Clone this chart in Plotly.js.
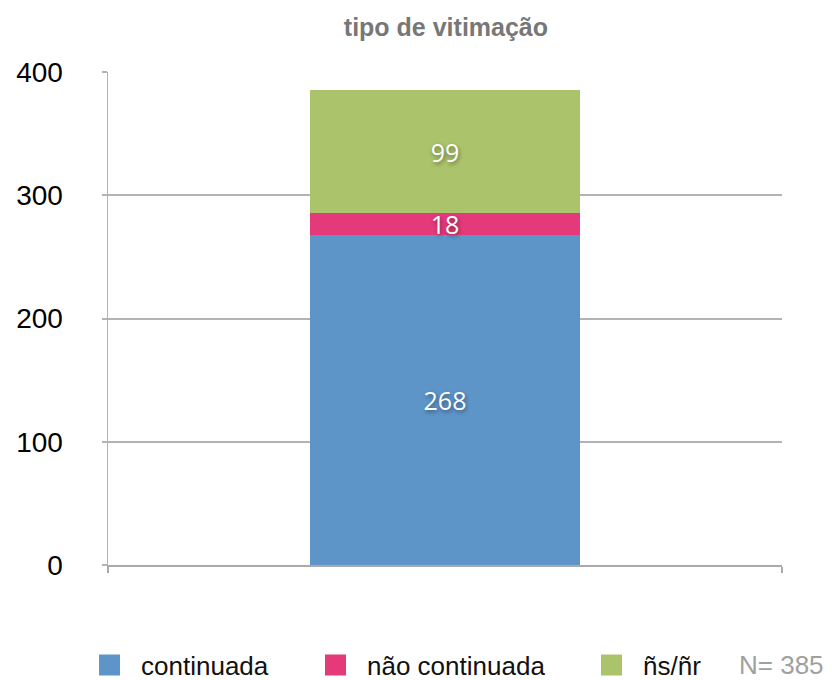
<!DOCTYPE html>
<html>
<head>
<meta charset="utf-8">
<script src="https://cdn.plot.ly/plotly-3.0.1.min.js"></script>
<style>body{margin:0;background:#fff}#chart{width:832px;height:680px}</style>
</head>
<body>
<div id="chart"></div>
<script>
const categories = ["tipo de vitimação"];
const seriesNames = ["continuada", "não continuada", "ñs/ñr"];
const continuada = [268];
const naoContinuada = [18];
const nsNr = [99];
const totalN = 385;
const yTicks = [0, 100, 200, 300, 400];

const colors = ["#5e95c9", "#e43a7a", "#abc46c"];
const values = [continuada, naoContinuada, nsNr];
const legendIds = ["legend", "legend2", "legend3"];
const legendX = [0.0938, 0.3654, 0.6971];

const barTraces = values.map((v, i) => ({
  type: "bar",
  name: seriesNames[i],
  legendgroup: seriesNames[i],
  showlegend: false,
  x: categories,
  y: v,
  text: v.map(String),
  textposition: "inside",
  insidetextanchor: "middle",
  textangle: 0,
  constraintext: "none",
  textfont: {family: "Open Sans, DejaVu Sans, sans-serif", size: 25, color: "#ffffff", shadow: "1px 2px 4px rgba(0,0,0,0.45)"},
  marker: {color: colors[i], line: {width: 0}},
  width: 0.4,
  hoverinfo: "skip"
}));

// legend swatches (larger squares than the default bar swatch)
const legendTraces = seriesNames.map((n, i) => ({
  type: "scatter", mode: "markers", name: n, legendgroup: n, legend: legendIds[i],
  x: [null], y: [null],
  marker: {symbol: "square", size: 16, color: colors[i], line: {width: 5, color: colors[i]}},
  hoverinfo: "skip"
}));

const legendFont = {family: "Liberation Sans, Arial, sans-serif", size: 26, color: "#111"};
const layout = {
  width: 832, height: 680,
  margin: {l: 108, r: 50, t: 72, b: 115},
  barmode: "stack",
  bargap: 0,
  paper_bgcolor: "#fff", plot_bgcolor: "#fff",
  title: {text: "<b>tipo de vitimação</b>", x: 0.536, xanchor: "center", y: 0.96, yanchor: "middle",
          font: {family: "Liberation Sans, Arial, sans-serif", size: 25, color: "#777777"}},
  xaxis: {
    range: [-0.5, 0.5], showticklabels: false, type: "category",
    tickvals: [-0.5, 0.5], ticks: "outside", ticklen: 6, tickcolor: "#aaaaaa", tickwidth: 1.5,
    showline: true, linecolor: "#aaaaaa", linewidth: 2, showgrid: false, zeroline: false,
    fixedrange: true
  },
  yaxis: {
    range: [0, 400], tickvals: yTicks, ticktext: yTicks.map(String),
    showgrid: true, gridcolor: "#b3b3b3", gridwidth: 2,
    showline: true, linecolor: "#b3b3b3", linewidth: 1.5,
    ticks: "outside", ticklen: 5, tickcolor: "#b3b3b3", tickwidth: 2,
    ticklabelstandoff: 33, zeroline: false,
    tickfont: {family: "Liberation Sans, Arial, sans-serif", size: 28, color: "#000"}
  },
  showlegend: true,
  annotations: [{
    xref: "paper", yref: "paper", x: 1.066, xanchor: "right", y: -0.203, yanchor: "middle",
    text: "N= " + totalN, showarrow: false,
    font: {family: "Liberation Sans, Arial, sans-serif", size: 26, color: "#a0a0a0"}
  }]
};
legendIds.forEach((id, i) => {
  layout[id] = {
    orientation: "h", xref: "container", yref: "container",
    x: legendX[i], xanchor: "left", y: 0.022, yanchor: "middle",
    font: legendFont, itemwidth: 53, bgcolor: "rgba(0,0,0,0)"
  };
});

Plotly.newPlot("chart", barTraces.concat(legendTraces), layout, {displayModeBar: false, staticPlot: true});
</script>
</body>
</html>
